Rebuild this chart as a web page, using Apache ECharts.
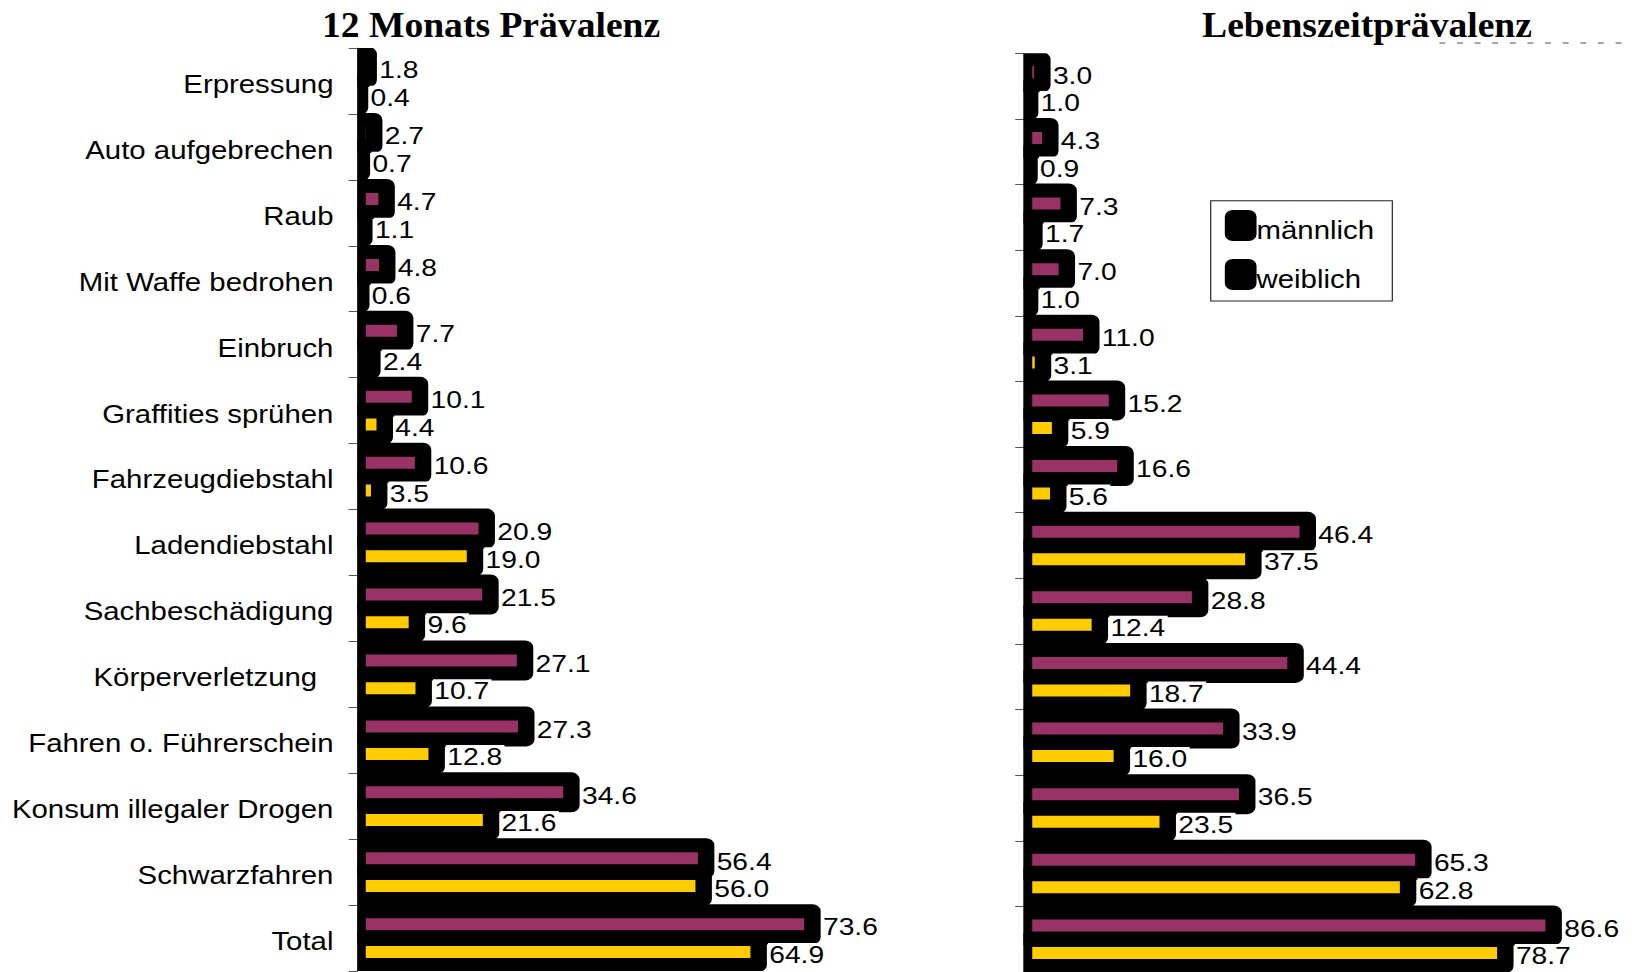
<!DOCTYPE html>
<html>
<head>
<meta charset="utf-8">
<title>Prävalenz</title>
<script src="https://cdn.jsdelivr.net/npm/echarts@6/dist/echarts.min.js"></script>
<style>
  html, body { margin: 0; padding: 0; background: #fff; overflow: hidden; }
  /* the figure is laid out narrow and widened horizontally */
  #chart { width: 1391.5px; height: 972px; transform: scaleX(1.175); transform-origin: 0 0; }
</style>
</head>
<body>
<div id="chart"></div>
<script>
// Delikte (von oben nach unten)
const categories = [
  'Erpressung', 'Auto aufgebrechen', 'Raub', 'Mit Waffe bedrohen', 'Einbruch',
  'Graffities sprühen', 'Fahrzeugdiebstahl', 'Ladendiebstahl', 'Sachbeschädigung',
  'Körperverletzung\u00a0\u00a0', 'Fahren o. Führerschein', 'Konsum illegaler Drogen',
  'Schwarzfahren', 'Total'
];

// 12 Monats Prävalenz in %
const male12 = [1.8, 2.7, 4.7, 4.8, 7.7, 10.1, 10.6, 20.9, 21.5, 27.1, 27.3, 34.6, 56.4, 73.6];
const female12 = [0.4, 0.7, 1.1, 0.6, 2.4, 4.4, 3.5, 19.0, 9.6, 10.7, 12.8, 21.6, 56.0, 64.9];

// Lebenszeitprävalenz in %
const maleLife = [3.0, 4.3, 7.3, 7.0, 11.0, 15.2, 16.6, 46.4, 28.8, 44.4, 33.9, 36.5, 65.3, 86.6];
const femaleLife = [1.0, 0.9, 1.7, 1.0, 3.1, 5.9, 5.6, 37.5, 12.4, 18.7, 16.0, 23.5, 62.8, 78.7];

const panelTitles = ['12 Monats Prävalenz', 'Lebenszeitprävalenz'];
const seriesNames = ['männlich', 'weiblich'];

const COLOR_M = '#993366';
const COLOR_W = '#FFCC00';
const SANS = '"Liberation Sans", Arial, sans-serif';
const SERIF = '"Liberation Serif", "Times New Roman", serif';
const BAR_H = 26;      // bar thickness
const EDGE = 14;       // heavy black outline
const SHIFT = 0.21;    // bar offset from band centre, as share of the band

// Bar with heavy outline plus its value label on a white box
function makeRenderer(color, side) {
  return function (params, api) {
    const val = api.value(0);
    const idx = api.value(1);
    const p0 = api.coord([0, idx]);
    const p1 = api.coord([val, idx]);
    const band = api.size([0, 1])[1];
    const cy = p0[1] + side * band * SHIFT;
    return {
      type: 'group',
      children: [
        {
          type: 'rect',
          shape: { x: p0[0], y: cy - BAR_H / 2, width: p1[0] - p0[0], height: BAR_H },
          style: { fill: color, stroke: '#000', lineWidth: EDGE, lineJoin: 'round' }
        },
        {
          type: 'text',
          z2: 10,
          x: p1[0] + EDGE / 2 + 1,
          y: cy + 3,
          style: {
            text: val.toFixed(1),
            fill: '#000',
            fontSize: 24,
            fontFamily: SANS,
            align: 'left',
            verticalAlign: 'middle',
            backgroundColor: '#fff',
            padding: [0, 2, 0, 1],
            lineHeight: 24
          }
        }
      ]
    };
  };
}

function barSeries(name, values, color, side, axisIdx) {
  return {
    type: 'custom',
    name: name,
    xAxisIndex: axisIdx,
    yAxisIndex: axisIdx,
    clip: true,
    animation: false,
    itemStyle: { color: color },
    encode: { x: 0, y: 1 },
    data: values.map((v, i) => [v, i]),
    renderItem: makeRenderer(color, side)
  };
}

const catAxis = (showLabels) => ({
  type: 'category',
  data: categories,
  inverse: true,
  axisLine: { show: true, lineStyle: { color: '#808080', width: 1 } },
  axisTick: { show: true, length: 7.5, lineStyle: { color: '#555', width: 1 } },
  axisLabel: {
    show: showLabels,
    interval: 0,
    color: '#000',
    fontSize: 25,
    fontFamily: SANS,
    margin: 20.5,
    verticalAlign: 'top',
    lineHeight: 6.5
  },
  splitLine: { show: false }
});

const valAxis = {
  type: 'value', min: 0, max: 100, show: false, splitLine: { show: false }
};

const chart = echarts.init(document.getElementById('chart'), null, { renderer: 'svg' });

chart.setOption({
  backgroundColor: '#fff',
  animation: false,
  grid: [
    { left: 304.3, top: 48, width: 526, height: 923 },
    { left: 871.5, top: 53.3, width: 526, height: 922 }
  ],
  xAxis: [
    Object.assign({ gridIndex: 0 }, valAxis),
    Object.assign({ gridIndex: 1 }, valAxis)
  ],
  yAxis: [
    Object.assign({ gridIndex: 0 }, catAxis(true)),
    Object.assign({ gridIndex: 1 }, catAxis(false))
  ],
  legend: {
    orient: 'vertical',
    left: 1030.4,
    top: 200.7,
    padding: [9.3, 15.5, 9, 12],
    borderColor: '#222',
    borderWidth: 1,
    itemWidth: 27,
    itemHeight: 31,
    itemGap: 16,
    selectedMode: false,
    formatter: name => '{t|' + name + '}',
    textStyle: {
      color: '#000', fontSize: 25, fontFamily: SANS,
      padding: [5, 0, -5, -5],
      rich: { t: { color: '#000', fontSize: 25, fontFamily: SANS } }
    },
    data: seriesNames.map(n => ({ name: n, icon: 'roundRect', itemStyle: { color: '#000', borderWidth: 0 } }))
  },
  graphic: [
    {
      type: 'text', x: 417.9, y: 6, scaleY: 1.15, silent: true,
      style: { text: panelTitles[0], fill: '#000', font: 'bold 32px ' + SERIF, align: 'center', verticalAlign: 'top' }
    },
    {
      type: 'text', x: 1163.4, y: 6, scaleY: 1.15, silent: true,
      style: { text: panelTitles[1], fill: '#000', font: 'bold 32px ' + SERIF, align: 'center', verticalAlign: 'top' }
    },
    {
      type: 'line', silent: true,
      shape: { x1: 1225, y1: 43, x2: 1380, y2: 43 },
      style: { stroke: '#888', lineWidth: 1.5, lineDash: [5, 10] }
    }
  ],
  series: [
    barSeries(seriesNames[0], male12, COLOR_M, -1, 0),
    barSeries(seriesNames[1], female12, COLOR_W, 1, 0),
    barSeries(seriesNames[0], maleLife, COLOR_M, -1, 1),
    barSeries(seriesNames[1], femaleLife, COLOR_W, 1, 1)
  ]
});
</script>
</body>
</html>
